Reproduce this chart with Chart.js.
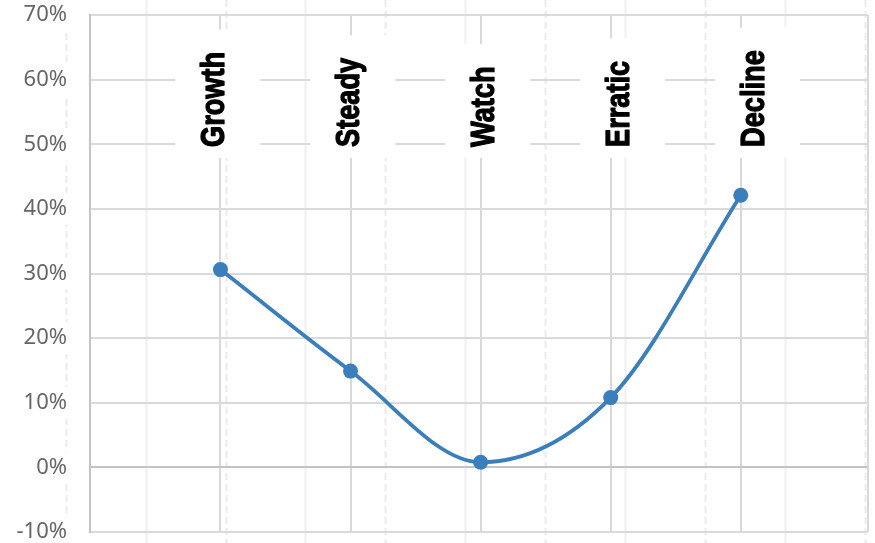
<!DOCTYPE html>
<html>
<head>
<meta charset="utf-8">
<script src="https://cdn.jsdelivr.net/npm/chart.js@4/dist/chart.umd.min.js"></script>
<style>
  html, body { margin: 0; padding: 0; background: #fff; }
  #wrap { width: 875px; height: 543px; }
</style>
</head>
<body>
<div id="wrap"><canvas id="chart" width="875" height="543"></canvas></div>
<script>
// Categories and their share values (percent)
const categories = ['Growth', 'Steady', 'Watch', 'Erratic', 'Decline'];
const categoryPositions = [1, 2, 3, 4, 5];
const shareValues = [30.6, 14.9, 0.8, 10.8, 42.1];

// Y axis ticks (percent)
const yTickValues = [-10, 0, 10, 20, 30, 40, 50, 60, 70];

// Background guide lines: even = dashed, odd = light solid
const guidePositions = [0, 1, 2, 3, 4, 5, 6, 7, 8, 9, 10];

const lineColor = '#3a7fbb';
const captionSqueeze = 0.8;

const points = categoryPositions.map((x, i) => ({ x: x, y: shareValues[i] }));

// Full-height guide lines drawn behind everything
const guideLines = {
  id: 'guideLines',
  beforeDraw(chart) {
    const ctx = chart.ctx;
    const s = chart.scales.xg;
    ctx.save();
    ctx.lineWidth = 2;
    guidePositions.forEach(v => {
      const px = Math.round(s.getPixelForValue(v)) + 0.5;
      if (v % 2 === 0) {
        ctx.strokeStyle = '#ebebeb';
        ctx.setLineDash([7, 4]);
      } else {
        ctx.strokeStyle = '#f0f0f0';
        ctx.setLineDash([]);
      }
      ctx.beginPath();
      ctx.moveTo(px, 0);
      ctx.lineTo(px, chart.height);
      ctx.stroke();
    });
    ctx.restore();
  }
};

// Vertical category captions on white panels
const categoryCaptions = {
  id: 'categoryCaptions',
  afterDraw(chart) {
    const ctx = chart.ctx;
    const s = chart.scales.xLab;
    ctx.save();
    ctx.font = 'bold 34px "Liberation Sans", Arial, sans-serif';
    categories.forEach((name, i) => {
      const cx = s.getPixelForValue(categoryPositions[i]);
      const w = ctx.measureText(name).width * captionSqueeze;
      const baseY = 147;
      const top = baseY - w - 22.5;
      ctx.fillStyle = '#ffffff';
      ctx.fillRect(cx + 3 - 42.5, top, 85, 158 - top);
      ctx.save();
      ctx.translate(cx, baseY);
      ctx.rotate(-Math.PI / 2);
      ctx.scale(captionSqueeze, 1);
      ctx.fillStyle = '#000000';
      ctx.strokeStyle = '#000000';
      ctx.lineWidth = 1.3;
      ctx.lineJoin = 'round';
      ctx.textAlign = 'left';
      ctx.textBaseline = 'middle';
      ctx.fillText(name, 0, 0);
      ctx.strokeText(name, 0, 0);
      ctx.restore();
    });
    ctx.restore();
  }
};

new Chart(document.getElementById('chart'), {
  type: 'line',
  data: {
    datasets: [{
      data: points,
      borderColor: lineColor,
      backgroundColor: lineColor,
      borderWidth: 3.8,
      pointRadius: 7.5,
      pointHoverRadius: 7.5,
      pointBorderWidth: 0,
      pointBackgroundColor: lineColor,
      cubicInterpolationMode: 'monotone',
      fill: false
    }]
  },
  options: {
    responsive: false,
    animation: false,
    layout: { padding: { top: 15, right: 6, bottom: 11, left: 0 } },
    plugins: {
      legend: { display: false },
      tooltip: { enabled: false }
    },
    scales: {
      x: {
        type: 'linear',
        position: 'bottom',
        min: -0.003,
        max: 5.974,
        afterBuildTicks(scale) {
          scale.ticks = [1, 2, 3, 4, 5, scale.max].map(v => ({ value: v }));
        },
        afterFit(scale) { scale.height = 0; },
        ticks: { display: false },
        grid: { color: '#d9d9d9', lineWidth: 2, drawTicks: false },
        border: { display: false }
      },
      xLab: {
        type: 'linear',
        display: false,
        position: 'bottom',
        min: 0.0758,
        max: 5.836
      },
      xg: {
        type: 'linear',
        display: false,
        position: 'bottom',
        min: 0.3036,
        max: 10.037
      },
      y: {
        type: 'linear',
        min: -10,
        max: 70,
        afterBuildTicks(scale) {
          scale.ticks = yTickValues.map(v => ({ value: v }));
        },
        afterFit(scale) {
          scale.width = 90;
          scale.paddingTop = 0;
          scale.paddingBottom = 0;
        },
        ticks: {
          padding: 23,
          color: '#666666',
          font: { family: '"Noto Sans", sans-serif', size: 22, lineHeight: 1 },
          callback: v => v + '%',
          showLabelBackdrop: true,
          backdropColor: '#ffffff',
          backdropPadding: { x: 5, y: 5 }
        },
        grid: {
          color: c => (c.tick && c.tick.value === 0 ? '#c4c4c4' : '#dadada'),
          lineWidth: 2,
          drawTicks: false
        },
        border: { color: '#c4c4c4', width: 2 }
      }
    }
  },
  plugins: [guideLines, categoryCaptions]
});
</script>
</body>
</html>
